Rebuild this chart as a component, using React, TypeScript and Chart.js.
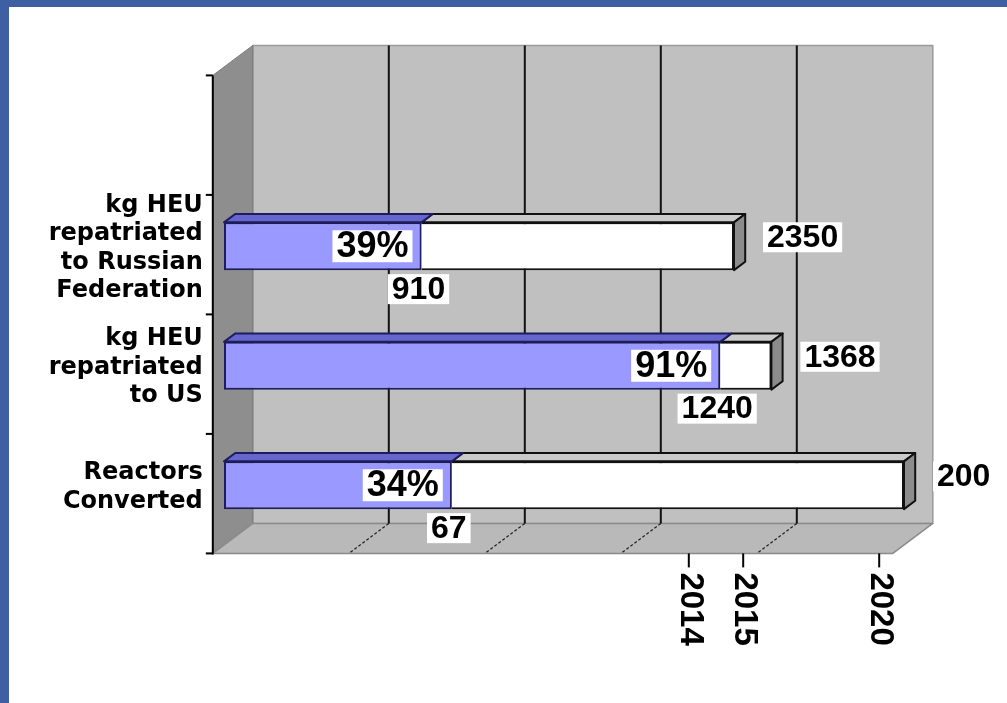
import React, { useEffect, useRef } from 'react';
import { Chart, registerables } from 'chart.js';

Chart.register(...registerables);

// ---------- data ----------
const categories: string[][] = [
  ['kg HEU', 'repatriated', 'to Russian', 'Federation'],
  ['kg HEU', 'repatriated', 'to US'],
  ['Reactors', 'Converted'],
];
const completed = [910, 1240, 67];
const targets = [2350, 1368, 200];
// where each target bar ends on the (unlabelled) time axis, 0..100
const targetPositions = [75, 80.5, 100];
const yearTickValues = [70, 78, 98];
const yearTickLabels = ['2014', '2015', '2020'];
const gridValues = [20, 40, 60, 80];
const axisMax = 100;

// ---------- styling / 3D geometry ----------
const W = 1007;
const H = 703;
const DEPTH_DX = 40;
const DEPTH_DY = -30;
const BAR_FRONT = 0.28;
const BAR_BACK = 0.56;
const FRAME_BLUE = '#3f5fa3';

const doneLengths = targetPositions.map((p, i) => (p * completed[i]) / targets[i]);
const restLengths = targetPositions.map((p, i) => p - doneLengths[i]);

function poly(ctx: CanvasRenderingContext2D, pts: number[][], fill: string, stroke?: string, lw = 1) {
  ctx.beginPath();
  ctx.moveTo(pts[0][0], pts[0][1]);
  for (let k = 1; k < pts.length; k++) ctx.lineTo(pts[k][0], pts[k][1]);
  ctx.closePath();
  ctx.fillStyle = fill;
  ctx.fill();
  if (stroke) {
    ctx.strokeStyle = stroke;
    ctx.lineWidth = lw;
    ctx.lineJoin = 'round';
    ctx.stroke();
  }
}

function line(ctx: CanvasRenderingContext2D, x1: number, y1: number, x2: number, y2: number, color: string, lw: number) {
  ctx.beginPath();
  ctx.moveTo(x1, y1);
  ctx.lineTo(x2, y2);
  ctx.strokeStyle = color;
  ctx.lineWidth = lw;
  ctx.stroke();
}

function boxedText(
  ctx: CanvasRenderingContext2D,
  text: string,
  x: number,
  y: number,
  align: 'left' | 'right' | 'center',
  font: string,
  boxH: number
) {
  ctx.font = font;
  const w = ctx.measureText(text).width;
  let left = x;
  if (align === 'right') left = x - w;
  if (align === 'center') left = x - w / 2;
  ctx.fillStyle = '#ffffff';
  ctx.fillRect(left - 4, y - boxH / 2, w + 8, boxH);
  ctx.fillStyle = '#000000';
  ctx.textAlign = 'left';
  ctx.textBaseline = 'middle';
  ctx.fillText(text, left, y + 1);
}

const scenePlugin = {
  id: 'scene3d',
  beforeDatasetsDraw(chart: any) {
    const { ctx, chartArea: a, scales } = chart;
    const xs = scales.x;
    const ys = scales.y;
    const fx = -BAR_FRONT * DEPTH_DX;
    const fy = -BAR_FRONT * DEPTH_DY;
    const bx = (1 - BAR_FRONT) * DEPTH_DX;
    const by = (1 - BAR_FRONT) * DEPTH_DY;
    const x0 = xs.getPixelForValue(0);
    const x1 = xs.getPixelForValue(axisMax);
    const top = a.top;
    const bottom = a.bottom;
    ctx.save();

    // frame
    ctx.fillStyle = FRAME_BLUE;
    ctx.fillRect(0, 0, W, 7);
    ctx.fillRect(0, 0, 9, H);

    // back wall
    poly(ctx, [[x0 + bx, top + by], [x1 + bx, top + by], [x1 + bx, bottom + by], [x0 + bx, bottom + by]], '#c0c0c0', '#9a9a9a', 1.5);
    // left wall
    poly(ctx, [[x0 + fx, top + fy], [x0 + bx, top + by], [x0 + bx, bottom + by], [x0 + fx, bottom + fy]], '#8e8e8e', '#7a7a7a', 1);
    // floor
    poly(ctx, [[x0 + fx, bottom + fy], [x0 + bx, bottom + by], [x1 + bx, bottom + by], [x1 + fx, bottom + fy]], '#b9b9b9', '#8a8a8a', 1.5);

    // grid lines on wall and floor
    for (const v of gridValues) {
      const px = xs.getPixelForValue(v);
      line(ctx, px + bx, top + by, px + bx, bottom + by, '#111111', 2);
      ctx.setLineDash([3, 2]);
      line(ctx, px + bx, bottom + by, px + fx, bottom + fy, '#222222', 1.2);
      ctx.setLineDash([]);
    }

    // category axis
    const axX = x0 + fx;
    line(ctx, axX, top + fy, axX, bottom + fy + 1, '#000000', 2);
    const n = ys.getLabels().length;
    const band = (bottom - top) / n;
    for (let k = 0; k <= n; k++) {
      const ty = top + k * band + fy;
      line(ctx, axX - 7, ty, axX, ty, '#000000', 2);
    }
    // category labels
    ctx.font = 'bold 24px "DejaVu Sans"';
    ctx.fillStyle = '#000000';
    ctx.textAlign = 'right';
    ctx.textBaseline = 'middle';
    categories.forEach((lines, i) => {
      const cy = ys.getPixelForValue(i + 1) + 2;
      const lh = 28.5;
      lines.forEach((t, j) => {
        ctx.fillText(t, axX - 10, cy + (j - (lines.length - 1) / 2) * lh);
      });
    });

    // year ticks on the front floor edge
    yearTickValues.forEach((v, i) => {
      const px = xs.getPixelForValue(v) + fx;
      const y0 = bottom + fy;
      line(ctx, px, y0, px, y0 + 14, '#000000', 2);
      ctx.save();
      ctx.translate(px + 1, y0 + 19);
      ctx.rotate(Math.PI / 2);
      ctx.font = 'bold 33px "Liberation Sans"';
      ctx.fillStyle = '#000000';
      ctx.textAlign = 'left';
      ctx.textBaseline = 'middle';
      ctx.fillText(yearTickLabels[i], 0, 0);
      ctx.restore();
    });
    ctx.restore();
  },
  afterDatasetsDraw(chart: any) {
    const { ctx } = chart;
    const ddx = (BAR_BACK - BAR_FRONT) * DEPTH_DX;
    const ddy = (BAR_BACK - BAR_FRONT) * DEPTH_DY;
    const m0 = chart.getDatasetMeta(0);
    const m1 = chart.getDatasetMeta(1);
    ctx.save();
    categories.forEach((_, i) => {
      const b = m0.data[i + 1];
      const w = m1.data[i + 1];
      const top = b.y - b.height / 2;
      const bot = b.y + b.height / 2;
      const s = b.base;
      const e = b.x;
      const end = w.x;
      // top faces
      poly(ctx, [[e, top], [end, top], [end + ddx, top + ddy], [e + ddx, top + ddy]], '#cbcbcb', '#111111', 2);
      poly(ctx, [[s, top], [e, top], [e + ddx, top + ddy], [s + ddx, top + ddy]], '#6666cc', '#1c1c5e', 2);
      // end face
      poly(ctx, [[end, top], [end + ddx, top + ddy], [end + ddx, bot + ddy], [end, bot]], '#8c8c8c', '#111111', 2);

      // labels
      const pct = Math.round((completed[i] / targets[i]) * 100) + '%';
      boxedText(ctx, pct, e - 13, b.y, 'right', 'bold 36px "Liberation Sans"', 32);
      boxedText(ctx, String(completed[i]), e - 3, bot + 19, 'center', 'bold 32px "Liberation Sans"', 30);
      boxedText(ctx, String(targets[i]), end + 33, b.y - 9, 'left', 'bold 32px "Liberation Sans"', 30);
    });
    ctx.restore();
  },
};

export default function App() {
  const ref = useRef<HTMLCanvasElement | null>(null);
  useEffect(() => {
    if (!ref.current) return;
    const chart = new Chart(ref.current, {
      type: 'bar',
      data: {
        labels: ['', ...categories.map((c) => c.join(' '))],
        datasets: [
          {
            label: 'Completed',
            data: [null, ...doneLengths],
            backgroundColor: '#9999ff',
            borderColor: '#1c1c5e',
            borderWidth: 2,
            borderSkipped: false,
            barPercentage: 0.4,
            categoryPercentage: 1,
          },
          {
            label: 'Remaining',
            data: [null, ...restLengths],
            backgroundColor: '#ffffff',
            borderColor: '#111111',
            borderWidth: 2,
            borderSkipped: 'start',
            barPercentage: 0.4,
            categoryPercentage: 1,
          },
        ],
      },
      options: {
        indexAxis: 'y',
        responsive: false,
        maintainAspectRatio: false,
        animation: false,
        devicePixelRatio: 1,
        layout: { padding: { left: 224, top: 67, right: 103, bottom: 158 } },
        plugins: { legend: { display: false }, tooltip: { enabled: false } },
        scales: {
          x: { stacked: true, min: 0, max: axisMax, display: false },
          y: { stacked: true, display: false },
        },
      },
      plugins: [scenePlugin],
    } as any);
    return () => chart.destroy();
  }, []);
  return (
    <div style={{ position: 'fixed', left: 0, top: 0, width: W, height: H, background: '#ffffff' }}>
      <canvas ref={ref} width={W} height={H} style={{ display: 'block', width: W, height: H }} />
    </div>
  );
}
